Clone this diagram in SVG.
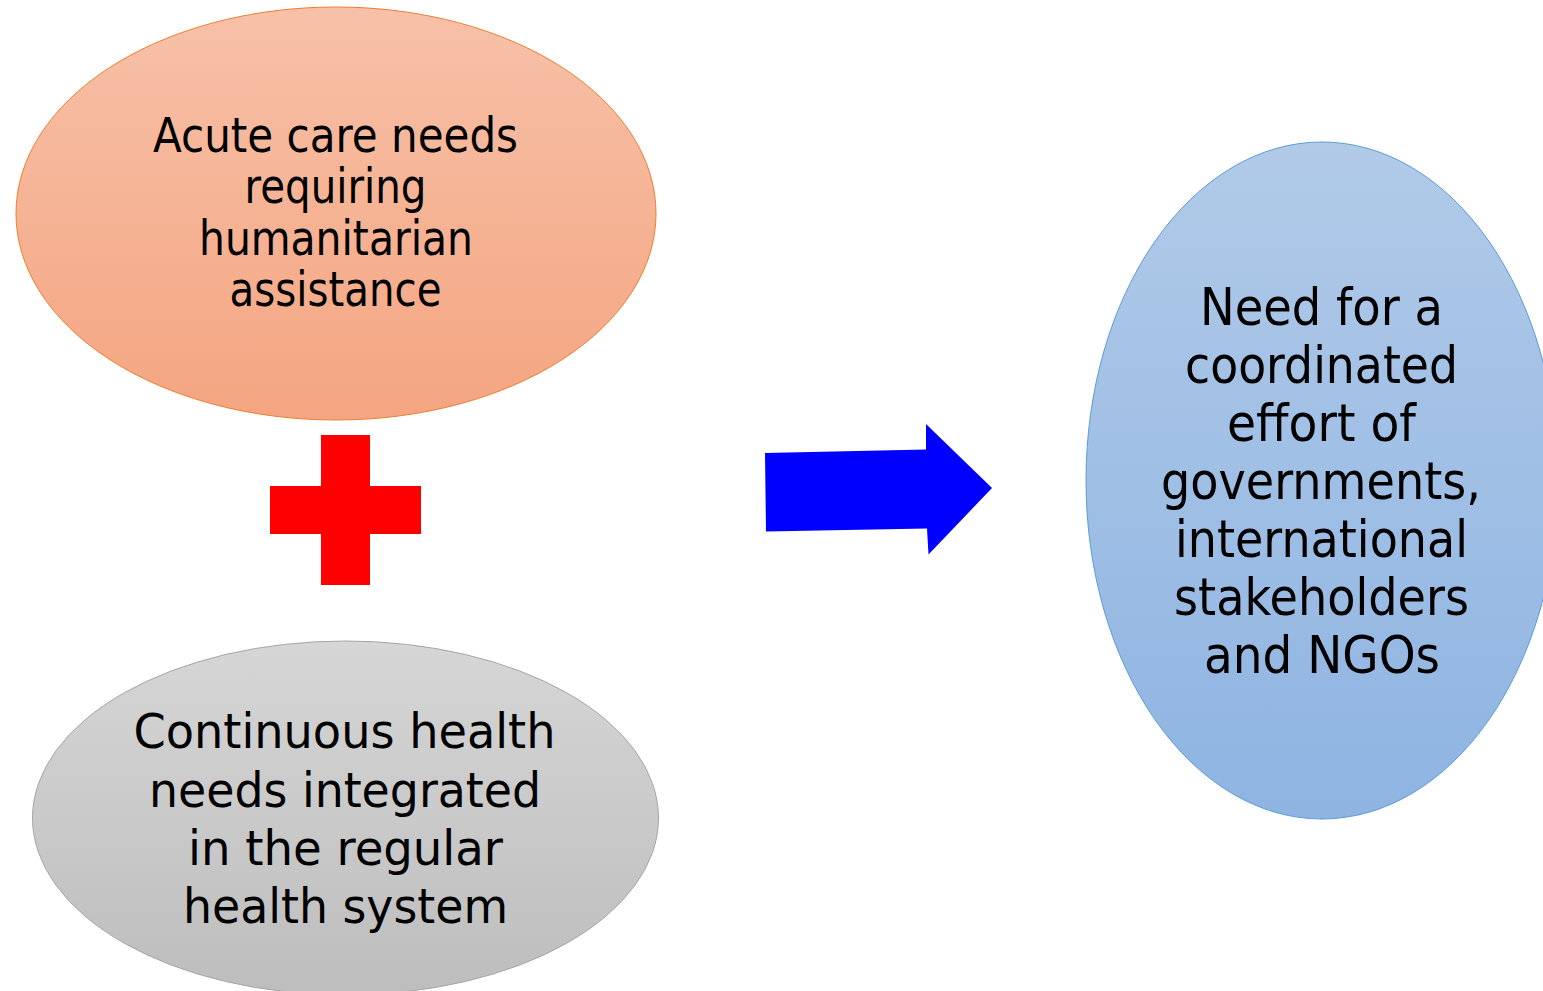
<svg xmlns="http://www.w3.org/2000/svg" width="1543" height="991" viewBox="0 0 1543 991">
<style>
.t{font-family:"DejaVu Sans","Liberation Sans",sans-serif;fill:#000;text-anchor:middle}
.o{font-size:48px}
.g{font-size:48px}
.b{font-size:51px}
</style>
<defs>
<linearGradient id="gO" x1="0" y1="0" x2="0" y2="1"><stop offset="0" stop-color="#F7C1A8"/><stop offset="1" stop-color="#F4A581"/></linearGradient>
<linearGradient id="gG" x1="0" y1="0" x2="0" y2="1"><stop offset="0" stop-color="#D6D6D6"/><stop offset="1" stop-color="#BDBDBD"/></linearGradient>
<linearGradient id="gB" x1="0" y1="0" x2="0" y2="1"><stop offset="0" stop-color="#B1CAE8"/><stop offset="1" stop-color="#8EB4E2"/></linearGradient>
</defs>
<rect width="1543" height="991" fill="#fff"/>
<g id="acute">
<ellipse cx="336" cy="213.5" rx="320" ry="206.5" fill="url(#gO)" stroke="#ED7D31" stroke-width="1"/>
<text class="t o" x="335.5" y="152" textLength="365" lengthAdjust="spacingAndGlyphs">Acute care needs</text>
<text class="t o" x="335.5" y="203" textLength="182" lengthAdjust="spacingAndGlyphs">requiring</text>
<text class="t o" x="336" y="255" textLength="274" lengthAdjust="spacingAndGlyphs">humanitarian</text>
<text class="t o" x="335.5" y="306" textLength="212" lengthAdjust="spacingAndGlyphs">assistance</text>
</g>
<g id="plus">
<rect x="321" y="435" width="49" height="150" fill="#FF0000"/>
<rect x="270" y="486" width="151" height="48" fill="#FF0000"/>
</g>
<g id="continuous">
<ellipse cx="345.5" cy="818" rx="313" ry="177" fill="url(#gG)" stroke="#A5A5A5" stroke-width="1"/>
<text class="t g" x="344.5" y="747.5" textLength="422" lengthAdjust="spacingAndGlyphs">Continuous health</text>
<text class="t g" x="345" y="806.5" textLength="392" lengthAdjust="spacingAndGlyphs">needs integrated</text>
<text class="t g" x="345.5" y="865" textLength="315" lengthAdjust="spacingAndGlyphs">in the regular</text>
<text class="t g" x="345.5" y="923" textLength="325" lengthAdjust="spacingAndGlyphs">health system</text>
</g>
<g id="connectors">
<polygon points="765,453 926,449.5 926,424 992,488 928.5,554.5 927,528.5 766,531.5" fill="#0000FF"/>
</g>
<g id="coordinated">
<ellipse cx="1322" cy="480.5" rx="236" ry="338.5" fill="url(#gB)" stroke="#5B9BD5" stroke-width="1"/>
<text class="t b" x="1321.5" y="325" textLength="243" lengthAdjust="spacingAndGlyphs">Need for a</text>
<text class="t b" x="1321.5" y="383" textLength="273" lengthAdjust="spacingAndGlyphs">coordinated</text>
<text class="t b" x="1321.5" y="441" textLength="189" lengthAdjust="spacingAndGlyphs">effort of</text>
<text class="t b" x="1321" y="499" textLength="320" lengthAdjust="spacingAndGlyphs">governments,</text>
<text class="t b" x="1321.5" y="557" textLength="293" lengthAdjust="spacingAndGlyphs">international</text>
<text class="t b" x="1321.5" y="615" textLength="295" lengthAdjust="spacingAndGlyphs">stakeholders</text>
<text class="t b" x="1322" y="673" textLength="236" lengthAdjust="spacingAndGlyphs">and NGOs</text>
</g>
</svg>
